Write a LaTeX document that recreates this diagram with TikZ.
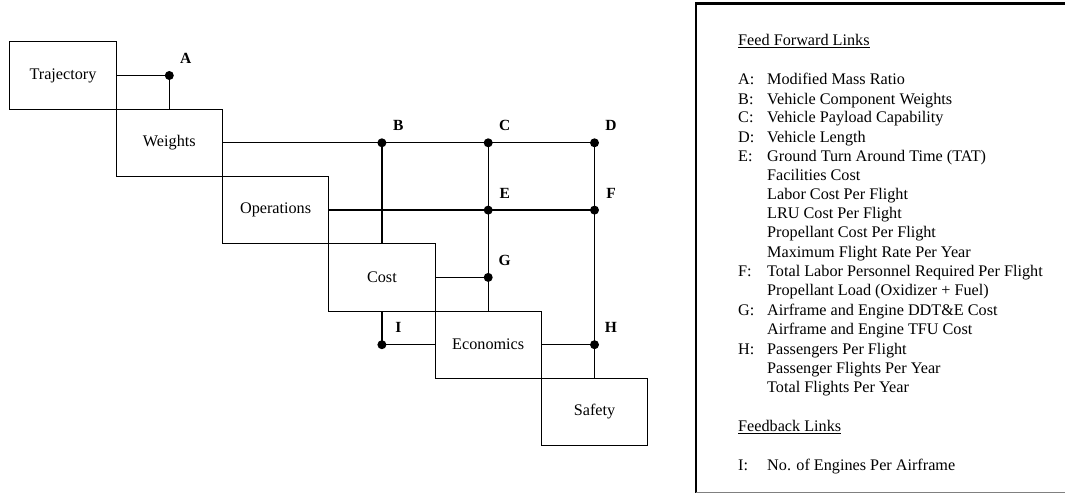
\documentclass[tikz,border=0pt]{standalone}
\usepackage{fontspec}
\setmainfont{Liberation Serif}
\begin{document}
\begin{tikzpicture}[x=1pt,y=-1pt,
  blk/.style={draw, line width=1.1pt, minimum width=106.3pt, minimum height=67.3pt, inner sep=0pt, font=\fontsize{16.2}{19}\selectfont},
  dot/.style={circle, fill, inner sep=0pt, minimum size=9pt},
  lnk/.style={line width=1.25pt},
  lbl/.style={font=\fontsize{15.5}{18}\selectfont\bfseries, inner sep=0pt},
  leg/.style={anchor=base west, inner sep=0pt, font=\fontsize{16.2}{19.2}\selectfont}]
\useasboundingbox (0,0) rectangle (1065,494);

% blocks
\node[blk] (traj) at (63,75.5) {Trajectory};
\node[blk] (wts)  at (169.3,142.8) {Weights};
\node[blk] (ops)  at (275.6,210.1) {Operations};
\node[blk] (cost) at (381.9,277.4) {Cost};
\node[blk] (eco)  at (488.2,344.7) {Economics};
\node[blk] (saf)  at (594.5,412.0) {Safety};

% junction dots
\node[dot] (A) at (169.3,75.5) {};
\node[dot] (B) at (381.9,142.8) {};
\node[dot] (C) at (488.2,142.8) {};
\node[dot] (D) at (594.5,142.8) {};
\node[dot] (E) at (488.2,210.1) {};
\node[dot] (F) at (594.5,210.1) {};
\node[dot] (G) at (488.2,277.4) {};
\node[dot] (H) at (594.5,344.7) {};
\node[dot] (I) at (381.9,344.7) {};

% connectors
\draw[lnk] (traj.east) -- (A.center) -- (A |- wts.north);
\draw[lnk] (wts.east) -- (B.center) -- (C.center) -- (D.center);
\draw[lnk] (B.center) -- (B |- cost.north);
\draw[lnk] (C.center) -- (E.center) -- (G.center) -- (G |- eco.north);
\draw[lnk] (D.center) -- (F.center) -- (H.center) -- (H |- saf.north);
\draw[lnk] (ops.east) -- (E.center) -- (F.center);
\draw[lnk] (cost.east) -- (G.center);
\draw[lnk] (cost.south) -- (I.center) -- (eco.west);
\draw[lnk] (eco.east) -- (H.center);

% letters
\foreach \p in {A,B,C,D,E,F,G,H,I}
  \node[lbl] (l\p) at ([shift={(16.5,-17)}]\p) {\p};

% legend frame
\draw[line width=2.3pt] (1068,3.6) -- (696,3.6) -- (696,493);
\draw[gray, line width=1pt] (696,492.6) -- (1068,492.6);

\node[leg] (ffl) at (738,45.3) {\underline{Feed Forward Links}};
\node[leg] (fbl) at (738,431.6) {\underline{Feedback Links}};

\foreach \yy/\kk [count=\n] in {79.3/A:, 98.7/B:, 117.3/C:, 136.7/D:, 156/E:, 271/F:, 309.3/G:, 348.3/H:, 464.3/I:}
  \node[leg] (key\n) at (738,\yy+5.7) {\kk};

\foreach \yy/\tx [count=\n] in {
  79.3/Modified Mass Ratio,
  98.7/Vehicle Component Weights,
  117.3/Vehicle Payload Capability,
  136.7/Vehicle Length,
  156/Ground Turn Around Time (TAT),
  175/Facilities Cost,
  194.3/Labor Cost Per Flight,
  213.3/LRU Cost Per Flight,
  232.3/Propellant Cost Per Flight,
  251.7/Maximum Flight Rate Per Year,
  271/Total Labor Personnel Required Per Flight,
  290/Propellant Load (Oxidizer + Fuel),
  309.3/Airframe and Engine DDT\&E Cost,
  328.3/Airframe and Engine TFU Cost,
  348.3/Passengers Per Flight,
  367.7/Passenger Flights Per Year,
  386.7/Total Flights Per Year,
  464.3/No. of Engines Per Airframe}
  \node[leg] (txt\n) at (767,\yy+5.7) {\tx};
\end{tikzpicture}
\end{document}
